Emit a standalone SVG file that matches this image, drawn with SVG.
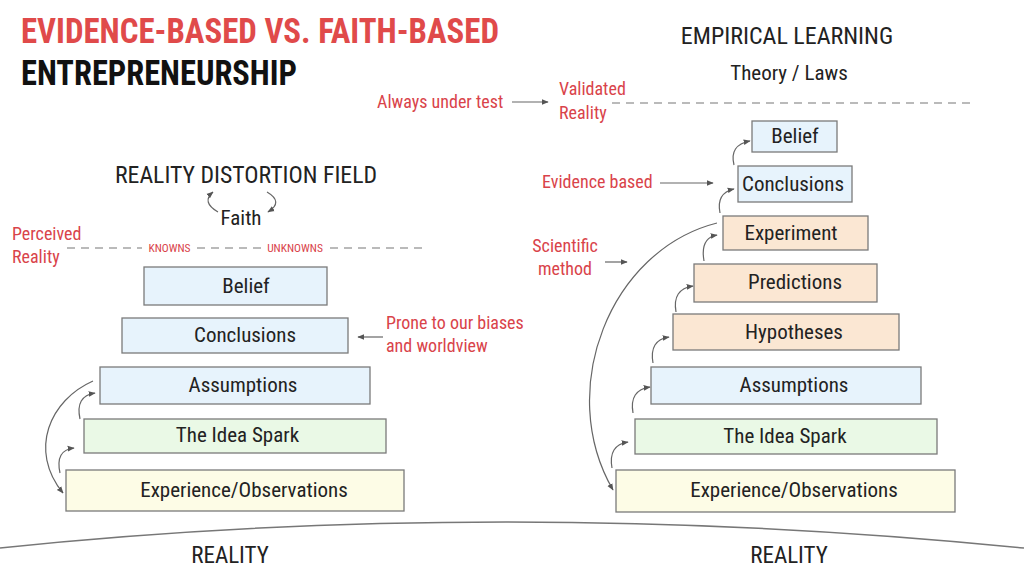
<svg xmlns="http://www.w3.org/2000/svg" width="1024" height="578" viewBox="0 0 1024 578">
<defs>
<style>
text{font-family:"Liberation Sans Narrow","Roboto Condensed","DejaVu Sans Condensed","Liberation Sans",sans-serif;}
.t{fill:#222;font-size:21px;text-anchor:middle;}
.r{fill:#d9434a;font-size:18px;}
.k{fill:#d9434a;font-size:11.5px;text-anchor:middle;}
.box{stroke:#7a7a7a;stroke-width:1.3;}
.blue{fill:#e7f3fc;}
.peach{fill:#fbe7d3;}
.green{fill:#eaf9e6;}
.yellow{fill:#fdfce6;}
.c{fill:none;stroke:#666;stroke-width:1.2;}
.d{fill:none;stroke:#777;stroke-width:1.2;stroke-dasharray:8 6;}
</style>
<marker id="ah" viewBox="0 0 10 10" refX="9" refY="5" markerWidth="7" markerHeight="7" markerUnits="userSpaceOnUse" orient="auto">
<path d="M0,1 L10,5 L0,9 z" fill="#555"/>
</marker>
</defs>
<rect width="1024" height="578" fill="#fff"/>

<g id="titles">
<text x="21" y="43" textLength="478" lengthAdjust="spacingAndGlyphs" style="font-size:35px;font-weight:bold;fill:#e04a4a">EVIDENCE-BASED VS. FAITH-BASED</text>
<text x="21" y="85" textLength="276" lengthAdjust="spacingAndGlyphs" style="font-size:35px;font-weight:bold;fill:#111">ENTREPRENEURSHIP</text>
<text x="787" y="44" style="font-size:24px;fill:#222;text-anchor:middle">EMPIRICAL LEARNING</text>
<text x="789" y="80" style="font-size:21px;fill:#222;text-anchor:middle">Theory / Laws</text>
<text x="246" y="183" textLength="262" lengthAdjust="spacingAndGlyphs" style="font-size:24px;fill:#222;text-anchor:middle">REALITY DISTORTION FIELD</text>
<text x="241" y="225" style="font-size:21px;fill:#222;text-anchor:middle">Faith</text>
<text x="230" y="563" style="font-size:23px;fill:#222;text-anchor:middle">REALITY</text>
<text x="789" y="563" style="font-size:23px;fill:#222;text-anchor:middle">REALITY</text>
</g>

<g id="labels">
<text class="r" x="12" y="240">Perceived</text>
<text class="r" x="12" y="263">Reality</text>
<text class="k" x="169.5" y="252">KNOWNS</text>
<text class="k" x="295" y="252">UNKNOWNS</text>
<text class="r" x="386" y="329">Prone to our biases</text>
<text class="r" x="386" y="352">and worldview</text>
<text class="r" x="377" y="108">Always under test</text>
<text class="r" x="559" y="95">Validated</text>
<text class="r" x="559" y="119">Reality</text>
<text class="r" x="542" y="188">Evidence based</text>
<text class="r" x="565" y="252" style="text-anchor:middle">Scientific</text>
<text class="r" x="565" y="275" style="text-anchor:middle">method</text>
</g>

<g id="left-belief"><rect class="box blue" x="144" y="267" width="183" height="38"/><text class="t" x="246" y="293">Belief</text></g>
<g id="left-conclusions"><rect class="box blue" x="122" y="318" width="226" height="35"/><text class="t" x="245" y="342">Conclusions</text></g>
<g id="left-assumptions"><rect class="box blue" x="100" y="367" width="270" height="37"/><text class="t" x="243" y="392">Assumptions</text></g>
<g id="left-idea"><rect class="box green" x="84" y="419" width="302" height="34"/><text class="t" x="237.5" y="442">The Idea Spark</text></g>
<g id="left-experience"><rect class="box yellow" x="66" y="470" width="338" height="41"/><text class="t" x="244" y="497">Experience/Observations</text></g>

<g id="right-belief"><rect class="box blue" x="752" y="121" width="85" height="31"/><text class="t" x="795" y="143">Belief</text></g>
<g id="right-conclusions"><rect class="box blue" x="738" y="166" width="114" height="36"/><text class="t" x="793" y="191">Conclusions</text></g>
<g id="right-experiment"><rect class="box peach" x="723" y="216" width="145" height="34"/><text class="t" x="791" y="240">Experiment</text></g>
<g id="right-predictions"><rect class="box peach" x="694" y="264" width="183" height="38"/><text class="t" x="795" y="289">Predictions</text></g>
<g id="right-hypotheses"><rect class="box peach" x="673" y="314" width="226" height="36"/><text class="t" x="794" y="339">Hypotheses</text></g>
<g id="right-assumptions"><rect class="box blue" x="651" y="367" width="270" height="37"/><text class="t" x="794" y="392">Assumptions</text></g>
<g id="right-idea"><rect class="box green" x="635" y="419" width="302" height="35"/><text class="t" x="785" y="443">The Idea Spark</text></g>
<g id="right-experience"><rect class="box yellow" x="616" y="470" width="339" height="42"/><text class="t" x="794" y="497">Experience/Observations</text></g>

<g id="connectors">
<path class="d" d="M67,248 H142"/>
<path class="d" d="M197,248 H263"/>
<path class="d" d="M330,248 H422"/>
<path class="d" d="M612,103 H972"/>
<path class="c" d="M218,212 Q201,202 213,192" marker-end="url(#ah)"/>
<path class="c" d="M267,192 Q284,202 268,212" marker-end="url(#ah)"/>
<path class="c" d="M512,102 H548" marker-end="url(#ah)"/>
<path class="c" d="M660,183 H713" marker-end="url(#ah)"/>
<path class="c" d="M605,262 H627" marker-end="url(#ah)"/>
<path class="c" d="M383,337 H358" marker-end="url(#ah)"/>
<path class="c" d="M60,473 Q55,450 74,448" marker-end="url(#ah)"/>
<path class="c" d="M80,419 Q75,396 95,393" marker-end="url(#ah)"/>
<path class="c" d="M93,381 C50,400 28,450 63,493" marker-end="url(#ah)"/>
<path class="c" d="M612,468 Q608,445 628,442" marker-end="url(#ah)"/>
<path class="c" d="M633,413 Q629,390 650,387" marker-end="url(#ah)"/>
<path class="c" d="M653,363 Q649,340 669,337" marker-end="url(#ah)"/>
<path class="c" d="M676,312 Q672,289 693,286" marker-end="url(#ah)"/>
<path class="c" d="M704,261 Q700,238 717,235" marker-end="url(#ah)"/>
<path class="c" d="M720,213 Q716,193 734,189" marker-end="url(#ah)"/>
<path class="c" d="M734,165 Q729,145 750,141" marker-end="url(#ah)"/>
<path class="c" d="M717,223 C610,250 555,390 613,490" marker-end="url(#ah)"/>
<path class="c" d="M0,548 Q500,496 1024,548" style="stroke:#777;stroke-width:1.5"/>
</g>
</svg>
